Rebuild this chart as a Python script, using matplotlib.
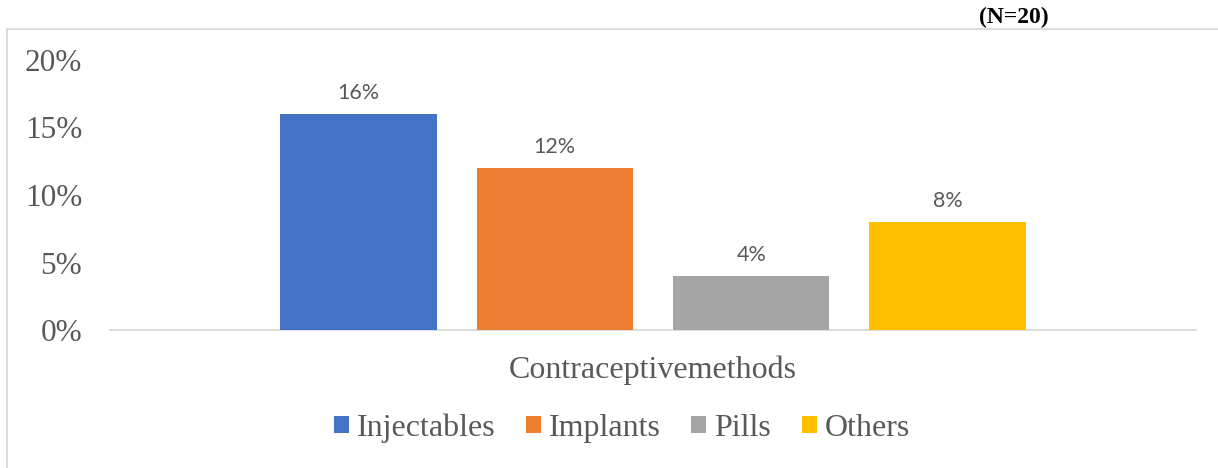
import matplotlib.pyplot as plt
from matplotlib.patches import Rectangle
from matplotlib.ticker import PercentFormatter

# 数据
methods = ["Injectables", "Implants", "Pills", "Others"]
shares = [0.16, 0.12, 0.04, 0.08]
colors = ["#4472C4", "#ED7D31", "#A5A5A5", "#FFC000"]
y_ticks = [0, 0.05, 0.10, 0.15, 0.20]
axis_title = "Contraceptivemethods"
sample_note = "(N=20)"

W, H = 1218, 468
SERIF = ["Liberation Serif", "DejaVu Serif"]
GREY = "#595959"

fig = plt.figure(figsize=(W / 100, H / 100), dpi=100)
ax = fig.add_axes([110 / W, 1 - 330 / H, (1196 - 110) / W, (330 - 60) / H])

# 柱状图
for i, (name, val, c) in enumerate(zip(methods, shares, colors)):
    ax.bar(i, val, width=156 / 196, color=c, label=name, zorder=3)
    ax.annotate(f"{val:.0%}", (i, val), xytext=(0, 8), textcoords="offset points",
                ha="center", va="bottom", fontsize=15.5, family="Lato", color=GREY)

ax.set_xlim(-1.265, 4.265)
ax.set_ylim(0, 0.20)
ax.set_yticks(y_ticks)
ax.yaxis.set_major_formatter(PercentFormatter(1.0, decimals=0))
ax.set_xticks([])
ax.tick_params(axis="y", length=0, pad=20, labelsize=22.5, labelcolor=GREY)
for lab in ax.get_yticklabels():
    lab.set_family(SERIF)

for side in ["top", "right", "left"]:
    ax.spines[side].set_visible(False)
ax.spines["bottom"].set_color("#d9d9d9")
ax.spines["bottom"].set_linewidth(1.3)

# 坐标轴标题和图例
fig.text(653 / W, 1 - 370 / H, axis_title, ha="center", va="center",
         fontsize=23, family=SERIF, color=GREY)

leg = fig.legend(loc="center", bbox_to_anchor=(622 / W, 1 - 428 / H), ncol=4,
                 frameon=False, prop={"family": SERIF, "size": 23},
                 handlelength=0.47, handleheight=0.47, handletextpad=0.25,
                 columnspacing=0.95, labelcolor=GREY)

# 外框（只有上边和左边）
fig.add_artist(Rectangle((7 / W, -0.2), 2, 1.2 - 29 / H, transform=fig.transFigure,
                         fill=False, edgecolor="#d9d9d9", linewidth=1.3))

fig.text(1014 / W, 1 - 17 / H, sample_note, ha="center", va="center",
         fontsize=17, fontweight="bold", family=SERIF, color="black")

fig.savefig("out.png", dpi=100)
